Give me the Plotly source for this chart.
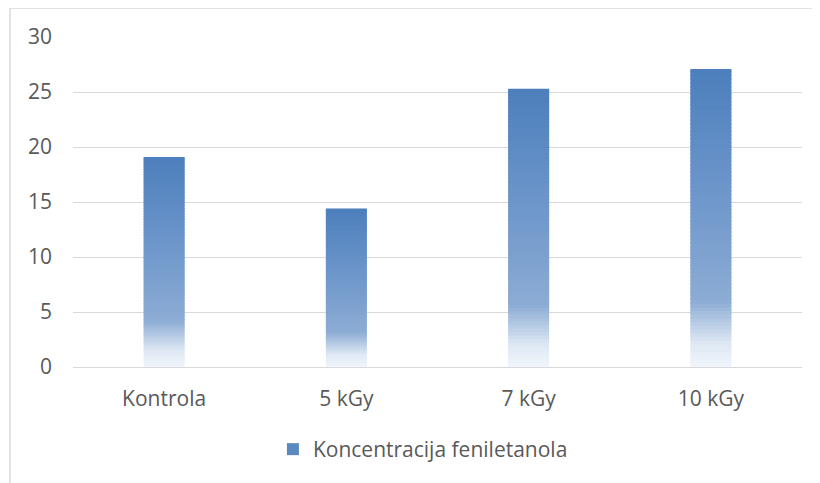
import plotly.graph_objects as go

categories = ["Kontrola", "5 kGy", "7 kGy", "10 kGy"]
values = [19.1, 14.4, 25.3, 27.1]
series_name = "Koncentracija feniletanola"
y_ticks = [0, 5, 10, 15, 20, 25, 30]

# gradient stops (fraction of bar height from bottom -> color)
stops = [(0.0, (240, 245, 251)), (0.08, (222, 232, 244)), (0.22, (140, 172, 212)),
         (0.55, (112, 152, 204)), (1.0, (76, 127, 188))]


def color_at(t):
    for (t0, c0), (t1, c1) in zip(stops[:-1], stops[1:]):
        if t0 <= t <= t1:
            f = (t - t0) / (t1 - t0) if t1 > t0 else 0
            c = [round(a + (b - a) * f) for a, b in zip(c0, c1)]
            return "rgb(%d,%d,%d)" % tuple(c)
    return "rgb(%d,%d,%d)" % stops[-1][1]


N = 80
W = 0.225
fig = go.Figure()
for i in range(N):
    t = (i + 0.5) / N
    frac_h = min(1.5 / N, 1 - i / N)
    fig.add_trace(go.Bar(
        x=categories,
        y=[v * frac_h for v in values],
        base=[v * i / N for v in values],
        width=W,
        marker=dict(color=color_at(t), line=dict(width=0)),
        showlegend=False,
        hoverinfo="skip",
    ))

# legend entry
fig.add_trace(go.Bar(
    x=[None], y=[None], name=series_name,
    marker=dict(color="rgb(92,137,194)", line=dict(width=0)),
    showlegend=True,
))

FONT = "Open Sans, Lato, sans-serif"
fig.update_layout(
    width=812, height=475,
    barmode="overlay",
    paper_bgcolor="white", plot_bgcolor="white",
    margin=dict(l=65, r=18, t=29, b=116, autoexpand=False),
    font=dict(family=FONT, size=21, color="#595959"),
    xaxis=dict(showgrid=False, showline=False, zeroline=False, ticks="",
               ticklabelstandoff=17, automargin=False,
               tickfont=dict(family=FONT, size=21, color="#595959")),
    yaxis=dict(range=[0, 30], tickvals=y_ticks, showgrid=True, gridcolor="#D9D9D9",
               gridwidth=1, zeroline=True, zerolinecolor="#D9D9D9", zerolinewidth=1,
               showline=False, ticks="", ticklabelstandoff=20, automargin=False,
               tickfont=dict(family=FONT, size=21, color="#595959")),
    legend=dict(orientation="h", x=0.48, xanchor="center", y=-0.25, yanchor="middle",
                font=dict(family=FONT, size=21, color="#595959"), itemwidth=30,
                bgcolor="rgba(0,0,0,0)"),
    showlegend=True,
    shapes=[
        dict(type="line", xref="paper", yref="paper", x0=-0.0864, x1=-0.0864,
             y0=1.0879, y1=-0.40, line=dict(color="#D9D9D9", width=1.5)),
        dict(type="line", xref="paper", yref="paper", x0=-0.0864, x1=1.03,
             y0=1.0879, y1=1.0879, line=dict(color="#D9D9D9", width=1.5)),
    ],
)

fig.write_html("out.html")
